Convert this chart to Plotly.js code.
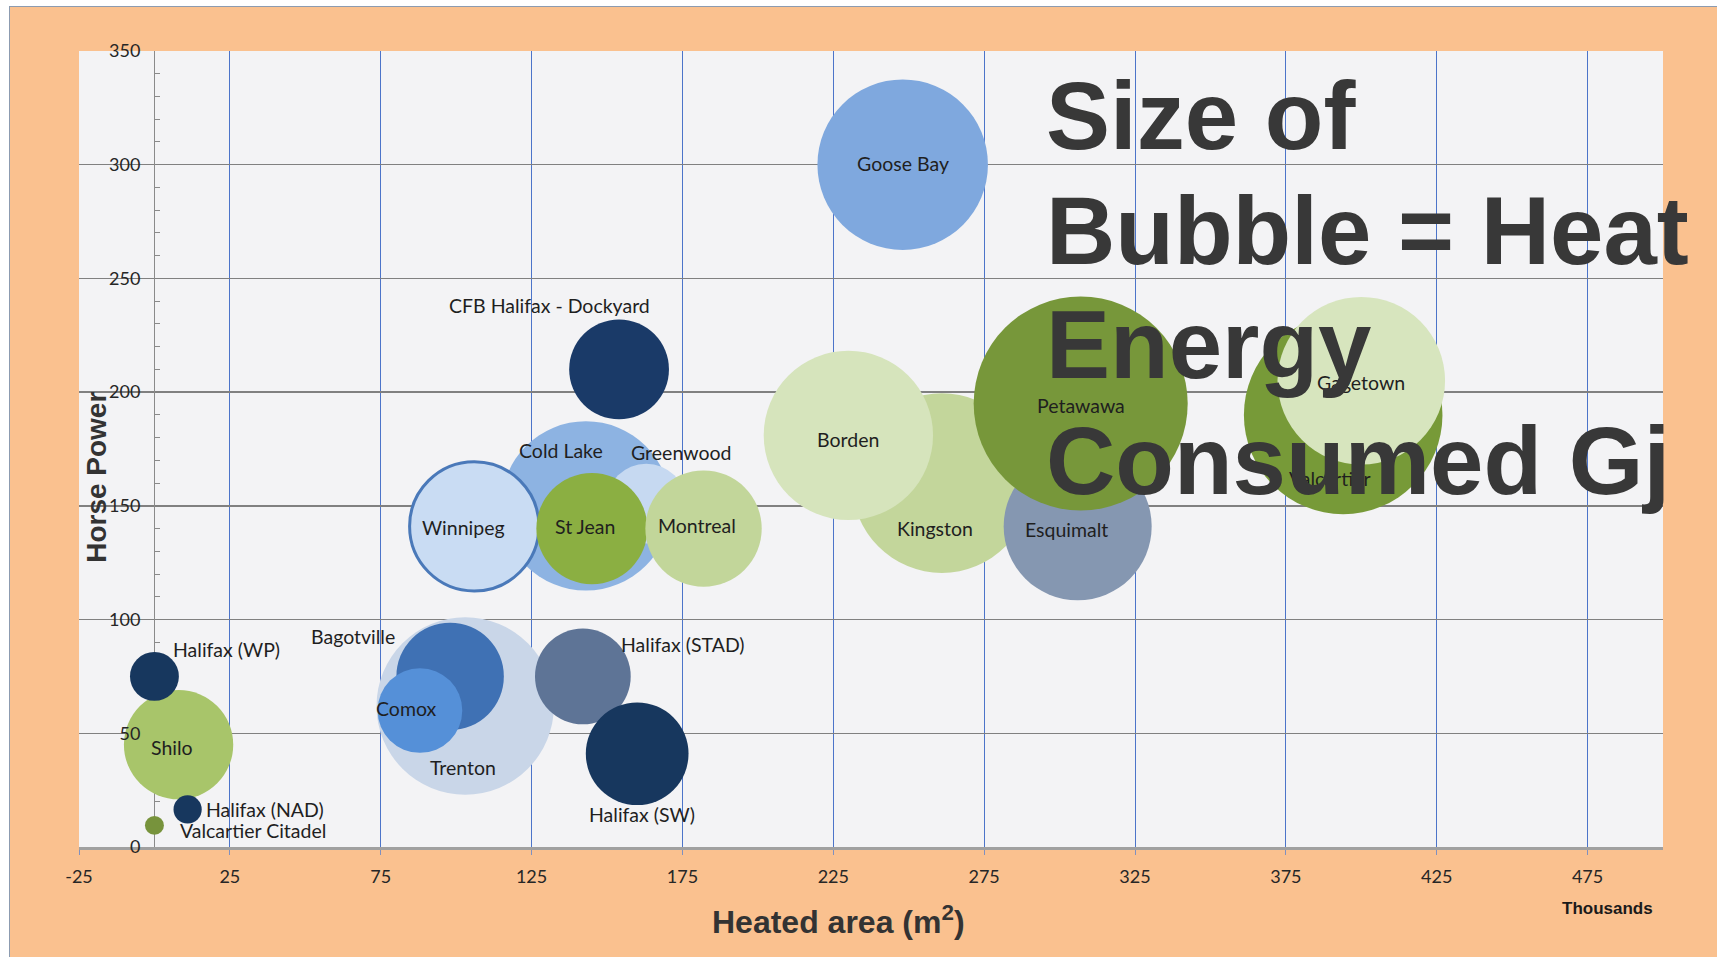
<!DOCTYPE html>
<html>
<head>
<meta charset="utf-8">
<script src="https://cdn.plot.ly/plotly-3.0.1.min.js"></script>
<style>
html, body { margin: 0; padding: 0; background: #ffffff; width: 1717px; height: 957px; overflow: hidden; }
#frame { position: absolute; left: 9px; top: 6px; width: 1707px; height: 950px;
         border-left: 1px solid #8c9bb0; border-top: 1px solid #8c9bb0; background: #FAC18F; }
#chart { width: 1707px; height: 950px; }
</style>
</head>
<body>
<div id="frame"><div id="chart"></div></div>
<script>
// ---------------- DATA ----------------
// Listed in drawing order (first = bottom-most bubble)
const SITES = ['Trenton', 'Bagotville', 'Comox', 'Cold Lake', 'Greenwood', 'Winnipeg',
  'St Jean', 'Montreal', 'Kingston', 'Borden', 'Esquimalt', 'Petawawa', 'Valcartier',
  'Gagetown', 'Goose Bay', 'CFB Halifax - Dockyard', 'Shilo', 'Halifax (WP)',
  'Halifax (NAD)', 'Valcartier Citadel', 'Halifax (STAD)', 'Halifax (SW)'];
// Heated area, thousands of m2
const HEATED_AREA_K = [103, 98, 88, 143, 163, 106, 145, 182, 261, 230, 306, 307, 394,
  400, 248, 154, 8, 0, 11, 0, 142, 160];
// Horse power
const HORSE_POWER = [62, 75, 60, 150, 151, 141, 140, 140, 160, 181, 141, 195, 190,
  205, 300, 210, 45, 75, 16.5, 9.5, 75, 41];
// Heat energy consumed (relative, bubble area)
const HEAT_ENERGY = [790, 290, 180, 720, 160, 420, 310, 340, 810, 720, 550, 1150, 990,
  705, 730, 250, 300, 60, 20, 9, 230, 265];

const X_TICKS = [-25, 25, 75, 125, 175, 225, 275, 325, 375, 425, 475];
const X_TICK_LABELS = ['-25', '25', '75', '125', '175', '225', '275', '325', '375', '425', '475'];
const X_RANGE = [-25, 500];
const Y_RANGE = [0, 350];

const TITLE_LINES = ['Size of', 'Bubble = Heat', 'Energy', 'Consumed Gj'];
const X_TITLE = 'Heated area (m<sup>2</sup>)';
const Y_TITLE = 'Horse Power';
const X_UNIT = 'Thousands';

// ---------------- STYLE ----------------
const COLORS = ['#C9D6E8', '#3F71B4', '#5590D8', '#8DB3E2', '#C6D9F1', '#C9DCF3',
  '#8BAF42', '#C2D69A', '#C3D69B', '#D6E4BC', '#8597B1', '#77973A', '#779A38',
  '#D7E5BE', '#7FA8DE', '#1A3A68', '#A8C56A', '#17375E', '#17375E', '#77933C',
  '#5E7496', '#17375E'];
const OUTLINE_W = SITES.map(s => s === 'Winnipeg' ? 3 : 0);
const OUTLINE_C = SITES.map(s => s === 'Winnipeg' ? '#4A79B9' : 'rgba(0,0,0,0)');
// label offsets from bubble centre, pixels
const LABEL_DX = [-2, -97, -13, -25, 34.5, -11, -6.5, -7, -7, 0, -11, 0, -13, 0, 0, -70,
  -7, 72.5, 77.5, 98.4, 100, 5];
const LABEL_DY = [-62, 40, 2.4, 55, 51, -1, 2.6, 3.6, -45, -3.7, -3.5, -2.3, -64, -2, 1,
  64, -3, 26.5, 0, -5.5, 32, -60.5];
const MAX_BUBBLE_DIAMETER = 214;
const LABEL_FONT = { family: 'Lato, sans-serif', size: 19.5, color: '#1f1f1f' };
const TICK_FONT = { family: 'Lato, sans-serif', size: 18, color: '#262626' };
const BOLD = 'Liberation Sans, Arial, sans-serif';

const trace = {
  type: 'scatter', mode: 'markers',
  x: HEATED_AREA_K, y: HORSE_POWER,
  marker: {
    size: HEAT_ENERGY, sizemode: 'area',
    sizeref: 2 * Math.max(...HEAT_ENERGY) / (MAX_BUBBLE_DIAMETER * MAX_BUBBLE_DIAMETER),
    color: COLORS, opacity: 1,
    line: { width: OUTLINE_W, color: OUTLINE_C }
  },
  hoverinfo: 'skip', cliponaxis: false
};
// empty trace that only carries the minor-tick axis (drawn beneath the bubbles)
const tickCarrier = { type: 'scatter', mode: 'markers', x: [], y: [], yaxis: 'y2', hoverinfo: 'skip' };

const annotations = [];
SITES.forEach((s, i) => {
  annotations.push({
    x: HEATED_AREA_K[i], y: HORSE_POWER[i], xref: 'x', yref: 'y',
    text: s, showarrow: false, xshift: LABEL_DX[i], yshift: LABEL_DY[i],
    xanchor: 'center', yanchor: 'middle', font: LABEL_FONT
  });
});
const TITLE_Y = [0.9187, 0.7744, 0.6312, 0.4857];
TITLE_LINES.forEach((t, i) => {
  annotations.push({
    x: 0.6092, y: TITLE_Y[i], xref: 'paper', yref: 'paper', xanchor: 'left', yanchor: 'middle',
    text: '<b>' + t + '</b>', showarrow: false,
    font: { family: BOLD, size: 96, color: '#383838' }
  });
});
annotations.push({
  x: 0.011, y: 0.4643, xref: 'paper', yref: 'paper', xanchor: 'center', yanchor: 'middle',
  textangle: -90, text: '<b>' + Y_TITLE + '</b>', showarrow: false,
  font: { family: BOLD, size: 28, color: '#333333' }
});
annotations.push({
  x: 0.4797, y: -0.092, xref: 'paper', yref: 'paper', xanchor: 'center', yanchor: 'middle',
  text: '<b>' + X_TITLE + '</b>', showarrow: false,
  font: { family: BOLD, size: 32, color: '#333333' }
});
annotations.push({
  x: 0.965, y: -0.077, xref: 'paper', yref: 'paper', xanchor: 'center', yanchor: 'middle',
  text: '<b>' + X_UNIT + '</b>', showarrow: false,
  font: { family: BOLD, size: 17, color: '#1a1a1a' }
});

const Y_POS = (0 - X_RANGE[0]) / (X_RANGE[1] - X_RANGE[0]);
const layout = {
  width: 1707, height: 950,
  margin: { l: 69, r: 54, t: 44, b: 110, pad: 0 },
  paper_bgcolor: '#FAC18F', plot_bgcolor: '#F3F3F5',
  showlegend: false, hovermode: false,
  font: { family: 'Lato, sans-serif', color: '#262626' },
  xaxis: {
    range: X_RANGE, tickmode: 'array', tickvals: X_TICKS, ticktext: X_TICK_LABELS,
    showgrid: true, gridcolor: '#4C74C9', gridwidth: 1,
    // vertical value axis at x = 0 (drawn beneath the bubbles)
    zeroline: true, zerolinecolor: '#8a8a8a', zerolinewidth: 1.5,
    showline: true, linecolor: '#a0a0a0', linewidth: 2.5,
    ticks: 'outside', ticklen: 5, tickcolor: '#7f90c0',
    tickfont: TICK_FONT, ticklabelstandoff: 7, fixedrange: true
  },
  yaxis: {
    range: Y_RANGE, tick0: 0, dtick: 50,
    anchor: 'free', position: Y_POS,
    showgrid: true, gridcolor: '#808080', gridwidth: 1.3, zeroline: false,
    showline: false,
    ticks: '', tickfont: TICK_FONT, ticklabelstandoff: 14,
    layer: 'above traces', fixedrange: true
  },
  yaxis2: {
    overlaying: 'y', range: Y_RANGE, tick0: 0, dtick: 50,
    anchor: 'free', position: Y_POS, side: 'left',
    showgrid: false, zeroline: false, showline: false, showticklabels: false,
    ticks: '',
    minor: { ticks: 'inside', ticklen: 5, dtick: 10, tickcolor: '#8a8a8a', showgrid: false },
    layer: 'below traces', fixedrange: true
  },
  annotations: annotations
};

Plotly.newPlot('chart', [tickCarrier, trace], layout, { displayModeBar: false, staticPlot: true });
</script>
</body>
</html>
